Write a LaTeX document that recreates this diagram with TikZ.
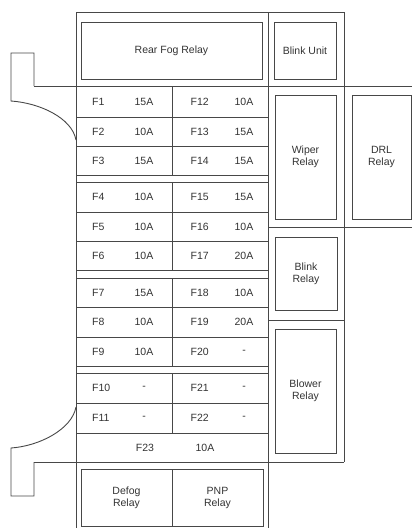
\documentclass[tikz,border=0pt]{standalone}
\usepackage{fontspec}
\setmainfont{Liberation Sans}
\begin{document}
\begin{tikzpicture}[x=1pt,y=-1pt]
\tikzset{
  ln/.style={draw=black!72,line width=0.9pt},
  box/.style={ln,rectangle,inner sep=0pt,align=center,
    font=\fontsize{10.5}{12}\selectfont,text=black!80},
  lbl/.style={inner sep=0pt,font=\fontsize{10.5}{12}\selectfont,text=black!80}
}
\useasboundingbox (0,0) rectangle (412,528);
% outer frame lines
\draw[ln] (76,528) -- (76,12) -- (344,12) -- (344,462);
\draw[ln] (268,12) -- (268,528);
\draw[ln] (34,86) -- (412,86);
\draw[ln] (268,227) -- (412,227);
\draw[ln] (268,320) -- (344,320);
\draw[ln] (34,462) -- (344,462);
% fuse grid rows
\foreach \yy in {117,146,175,182,212,241,270,278,307,337,366,373,403,433}
  \draw[ln] (76,\yy) -- (268,\yy);
% fuse column dividers
\foreach \ya/\yb in {86/175,182/270,278/366,373/433}
  \draw[ln] (172,\ya) -- (172,\yb);
% side brackets
\draw[ln] (76,140) .. controls (72,118) and (40,103) .. (11,101) -- (11,53) -- (34,53) -- (34,86);
\draw[ln] (76,407) .. controls (72,429) and (40,446) .. (11,448) -- (11,496) -- (34,496) -- (34,462);
% relay boxes
\node[box,minimum width=181pt,minimum height=57pt] (rearfog) at (171.5,50.5) {Rear Fog Relay};
\node[box,minimum width=62pt,minimum height=57pt] (blinkunit) at (305,50.5) {Blink Unit};
\node[box,minimum width=61pt,minimum height=124pt] (wiper) at (305.5,157) {Wiper\\Relay};
\node[box,minimum width=59pt,minimum height=124pt] (drl) at (381.5,157) {DRL\\Relay};
\node[box,minimum width=62pt,minimum height=73pt] (blinkrelay) at (306,273.5) {Blink\\Relay};
\node[box,minimum width=61pt,minimum height=124pt] (blower) at (305.5,391) {Blower\\Relay};
\node[box,minimum width=91pt,minimum height=57pt] (defog) at (126.5,497.5) {Defog\\Relay};
\node[box,minimum width=91pt,minimum height=57pt] (pnp) at (217.5,497.5) {PNP\\Relay};
% fuses
\foreach \n/\yy/\a/\m/\b in {1/101.5/15A/12/10A, 2/131.5/10A/13/15A, 3/160.5/15A/14/15A,
  4/197/10A/15/15A, 5/226.5/10A/16/10A, 6/255.5/10A/17/20A,
  7/292.5/15A/18/10A, 8/322/10A/19/20A, 9/351.5/10A/20/-,
  10/388/-/21/-, 11/418/-/22/-}{
  \node[lbl,anchor=west] (f\n) at (92,\yy) {F\n};
  \node[lbl] (a\n) at (144,\yy) {\a};
  \node[lbl,anchor=west] (f\m) at (190.5,\yy) {F\m};
  \node[lbl] (a\m) at (244,\yy) {\b};
}
\node[lbl] (f23) at (145,447.5) {F23};
\node[lbl] (a23) at (205,447.5) {10A};
\end{tikzpicture}
\end{document}
